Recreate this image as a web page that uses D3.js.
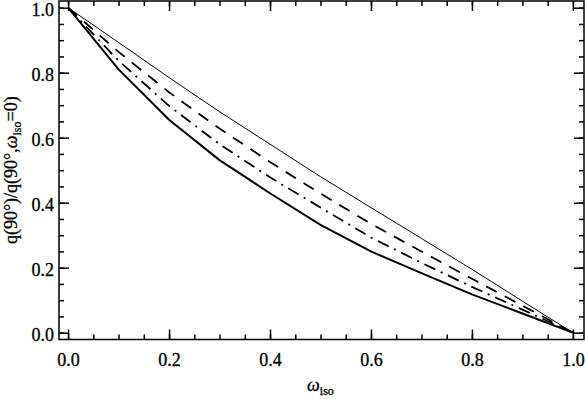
<!DOCTYPE html>
<html>
<head>
<meta charset="utf-8">
<script src="https://cdn.jsdelivr.net/npm/d3@7"></script>
<style>
  body { margin: 0; background: #fff; }
</style>
</head>
<body>
<div id="chart"></div>
<script>
// values
const omega = [0.0, 0.1, 0.2, 0.3, 0.4, 0.5, 0.6, 0.7, 0.8, 0.9, 1.0];
const thinLine = [1.0, 0.893, 0.785, 0.68, 0.58, 0.48, 0.385, 0.29, 0.195, 0.097, 0.0];
const dashedLine = [1.0, 0.864, 0.74, 0.628, 0.525, 0.428, 0.335, 0.25, 0.166, 0.083, 0.0];
const dashDotLine = [1.0, 0.837, 0.698, 0.58, 0.478, 0.385, 0.293, 0.215, 0.141, 0.071, 0.0];
const solidLine = [1.0, 0.81, 0.655, 0.531, 0.429, 0.332, 0.25, 0.183, 0.118, 0.059, 0.0];
const majorTicks = [0, 0.2, 0.4, 0.6, 0.8, 1.0];
const minorTicks = d3.range(0, 21).map(i => i * 0.05);

const serif = "'Liberation Serif'";
const width = 585, height = 399;
const box = { left: 59, right: 584, top: 1, bottom: 339.5 };

const svg = d3.select("#chart")
  .append("svg")
  .attr("width", width)
  .attr("height", height);

const x = d3.scaleLinear().domain([-0.018, 1.022]).range([box.left, box.right]);
const y = d3.scaleLinear().domain([-0.021, 1.0206]).range([box.bottom, box.top]);

// ticks on all four sides, pointing inward
function addAxis(axisFn, scale, transform, size, values, labels) {
  const g = svg.append("g")
    .attr("transform", transform)
    .call(axisFn(scale)
      .tickValues(values)
      .tickSize(-size)
      .tickPadding(8)
      .tickFormat(labels ? d3.format(".1f") : ""));
  g.select(".domain").remove();
  g.selectAll(".tick line").attr("stroke", "#000").attr("stroke-width", 1.5);
  g.selectAll(".tick text")
    .style("font-family", serif)
    .style("font-size", "18px")
    .style("stroke", "#000")
    .style("stroke-width", 0.3)
    .attr("fill", "#000");
  return g;
}

addAxis(d3.axisBottom, x, `translate(0,${box.bottom})`, 5, minorTicks, false);
addAxis(d3.axisBottom, x, `translate(0,${box.bottom})`, 10, majorTicks, true)
  .selectAll(".tick text").attr("dy", "1.05em");
addAxis(d3.axisTop, x, `translate(0,${box.top})`, 5, minorTicks, false);
addAxis(d3.axisTop, x, `translate(0,${box.top})`, 10, majorTicks, false);
addAxis(d3.axisLeft, y, `translate(${box.left},0)`, 5, minorTicks, false);
addAxis(d3.axisLeft, y, `translate(${box.left},0)`, 10, majorTicks, true)
  .selectAll(".tick text").attr("x", -5).attr("dy", "0.42em");
addAxis(d3.axisRight, y, `translate(${box.right},0)`, 5, minorTicks, false);
addAxis(d3.axisRight, y, `translate(${box.right},0)`, 10, majorTicks, false);

// frame
svg.append("rect")
  .attr("x", box.left)
  .attr("y", box.top)
  .attr("width", box.right - box.left)
  .attr("height", box.bottom - box.top)
  .attr("fill", "none")
  .attr("stroke", "#000")
  .attr("stroke-width", 1.5);

// curves
const line = d3.line()
  .x(d => x(d[0]))
  .y(d => y(d[1]));

const series = [
  { values: thinLine, width: 1, dash: null },
  { values: dashedLine, width: 1.8, dash: "12,9" },
  { values: dashDotLine, width: 1.8, dash: "12,6,2,6" },
  { values: solidLine, width: 2, dash: null }
];

series.forEach(s => {
  svg.append("path")
    .datum(omega.map((o, i) => [o, s.values[i]]))
    .attr("d", line)
    .attr("fill", "none")
    .attr("stroke", "#000")
    .attr("stroke-width", s.width)
    .attr("stroke-dasharray", s.dash);
});

// axis titles
const xTitle = svg.append("text")
  .attr("x", x(0.5))
  .attr("y", 391)
  .attr("text-anchor", "middle")
  .style("font-family", serif)
  .style("font-size", "18px")
  .style("stroke", "#000")
  .style("stroke-width", 0.3);
xTitle.append("tspan").style("font-style", "italic").text("ω");
xTitle.append("tspan").attr("dy", 4).style("font-size", "12px").text("iso");

const yTitle = svg.append("text")
  .attr("transform", `translate(17,${y(0.5)}) rotate(-90)`)
  .attr("text-anchor", "middle")
  .style("font-family", serif)
  .style("font-size", "18px")
  .style("stroke", "#000")
  .style("stroke-width", 0.3);
yTitle.append("tspan").text("q(90°)/q(90°,");
yTitle.append("tspan").style("font-style", "italic").text("ω");
yTitle.append("tspan").attr("dy", 4).style("font-size", "12px").text("iso");
yTitle.append("tspan").attr("dy", -4).text("=0)");
</script>
</body>
</html>
